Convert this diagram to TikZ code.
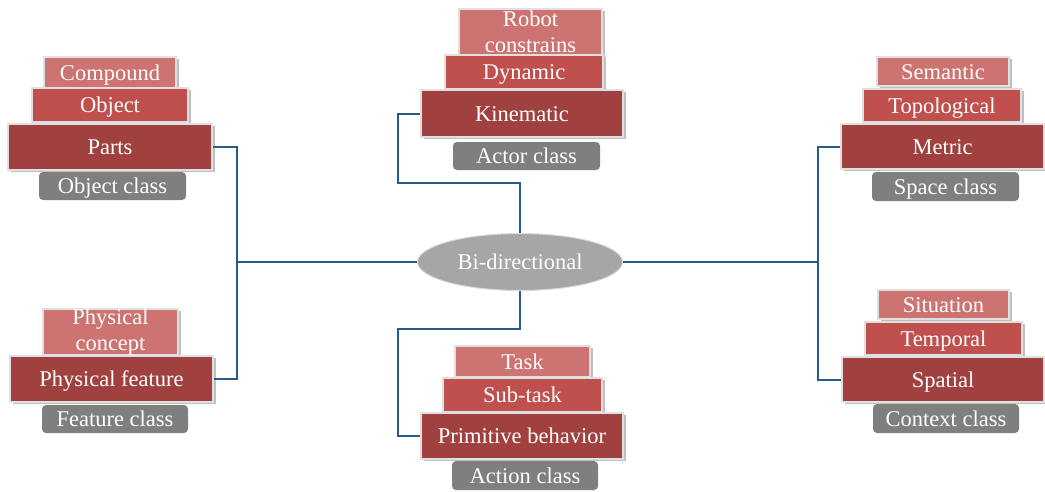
\documentclass[tikz,border=0pt]{standalone}
\usepackage{fontspec}
\setmainfont{Liberation Serif}
\usetikzlibrary{shapes.geometric,shadows}
\definecolor{rlight}{HTML}{CD7371}
\definecolor{rmid}{HTML}{C0504D}
\definecolor{rdark}{HTML}{A04140}
\definecolor{clsgray}{HTML}{7F7F7F}
\definecolor{ellgray}{HTML}{A6A6A6}
\definecolor{conn}{HTML}{2A5A8C}
\tikzset{
  lvl/.style={draw=black!12, line width=1.6pt, text=white, inner sep=0pt, align=center,
    font=\fontsize{22.5}{26}\selectfont,
    drop shadow={shadow xshift=2.5pt, shadow yshift=-2pt, opacity=0.25, fill=black}},
  one/.style={text height=15pt, text depth=0pt},
  top/.style={lvl, fill=rlight},
  mid/.style={lvl, fill=rmid, one},
  bot/.style={lvl, fill=rdark, one},
  cls/.style={fill=clsgray, rounded corners=4pt, text=white, inner sep=0pt,
    font=\fontsize{22.5}{26}\selectfont, one},
  conline/.style={draw=conn, line width=2pt},
}
\begin{document}
\begin{tikzpicture}[x=1pt,y=-1pt]
\useasboundingbox (0,0) rectangle (1045,491);
% Object group
\node[top, one, minimum width=132pt, minimum height=31pt] (comp) at (110,72.5) {Compound};
\node[mid, minimum width=156pt, minimum height=34pt] (obj) at (110,105) {Object};
\node[bot, minimum width=204pt, minimum height=46pt] (parts) at (110,147) {Parts};
\node[cls, minimum width=147pt, minimum height=28pt] (objcls) at (112.5,186) {Object class};
% Actor group
\node[top, minimum width=143pt, minimum height=46pt] (robot) at (530.5,32) {Robot\\constrains};
\node[mid, minimum width=158pt, minimum height=34pt] (dyn) at (524,72) {Dynamic};
\node[bot, minimum width=202pt, minimum height=47pt] (kin) at (522,113.5) {Kinematic};
\node[cls, minimum width=147pt, minimum height=28pt] (actcls) at (526.5,156) {Actor class};
% Action group
\node[top, one, minimum width=135pt, minimum height=31pt] (task) at (522.5,361.5) {Task};
\node[mid, minimum width=159pt, minimum height=34pt] (sub) at (522.5,395) {Sub-task};
\node[bot, minimum width=202pt, minimum height=46pt] (prim) at (522,436) {Primitive behavior};
\node[cls, minimum width=146pt, minimum height=29pt] (actioncls) at (525,475.5) {Action class};
% Feature group
\node[top, minimum width=135pt, minimum height=46pt] (pconc) at (110.5,332) {Physical\\concept};
\node[bot, minimum width=203pt, minimum height=46pt] (pfeat) at (111.5,379) {Physical feature};
\node[cls, minimum width=146pt, minimum height=28pt] (featcls) at (115,419) {Feature class};
% Space group
\node[top, one, minimum width=132pt, minimum height=29pt] (sem) at (943,71.5) {Semantic};
\node[mid, minimum width=158pt, minimum height=33pt] (topo) at (942,105.5) {Topological};
\node[bot, minimum width=203pt, minimum height=45pt] (metric) at (942.5,146.5) {Metric};
\node[cls, minimum width=147pt, minimum height=29pt] (spacecls) at (945.5,186.5) {Space class};
% Context group
\node[top, one, minimum width=131pt, minimum height=29pt] (sit) at (943.5,304.5) {Situation};
\node[mid, minimum width=157pt, minimum height=33pt] (temp) at (943.5,338.5) {Temporal};
\node[bot, minimum width=202pt, minimum height=45pt] (spat) at (943,379.5) {Spatial};
\node[cls, minimum width=146pt, minimum height=29pt] (ctxcls) at (946,418.5) {Context class};
% Centre
\node[ellipse, fill=ellgray, draw=black!15, line width=1pt, minimum width=205pt, minimum height=57pt,
  inner sep=0pt, text=white, font=\fontsize{22.5}{26}\selectfont, one] (ell) at (520,262) {Bi-directional};
% Junctions
\coordinate (lj) at (237,262);
\coordinate (rj) at (818,262);
\coordinate (tj) at (398,183);
\coordinate (bj) at (398,329);
% Connectors
\draw[conline] (parts.east) -| (lj);
\draw[conline] (pfeat.east) -| (lj);
\draw[conline] (ell.west) -- (lj);
\draw[conline] (metric.west) -| (rj);
\draw[conline] (spat.west) -| (rj);
\draw[conline] (ell.east) -- (rj);
\draw[conline] (kin.west) -| (tj) -| (ell.north);
\draw[conline] (ell.south) |- (bj) |- (prim.west);
\end{tikzpicture}
\end{document}
